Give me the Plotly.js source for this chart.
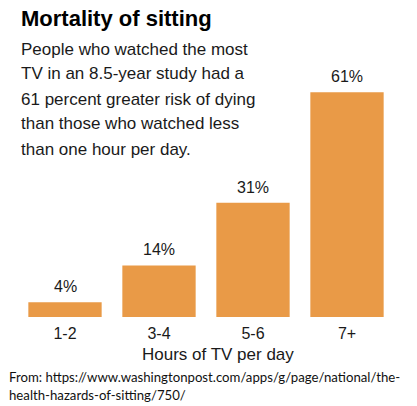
<!DOCTYPE html>
<html>
<head>
<meta charset="utf-8">
<script src="https://cdn.plot.ly/plotly-3.0.1.min.js"></script>
<style>
  html, body { margin: 0; padding: 0; background: #fff; }
  #chart { width: 417px; height: 406px; }
</style>
</head>
<body>
<div id="chart"></div>
<script>
// hours of TV per day vs. greater risk of dying (%)
const hours = ['1-2', '3-4', '5-6', '7+'];
const risk = [4, 14, 31, 61];

const titleText = 'Mortality of sitting';
const bodyLines = [
  'People who watched the most',
  'TV in an 8.5-year study had a',
  '61 percent greater risk of dying',
  'than those who watched less',
  'than one hour per day.',
];
const axisText = 'Hours of TV per day';
const sourceLines = [
  'From: https://www.washingtonpost.com/apps/g/page/national/the-',
  'health-hazards-of-sitting/750/',
];

const W = 417, H = 406;
const M = { l: 18, r: 23, t: 20, b: 89 };
const plotH = H - M.t - M.b;
const plotW = W - M.l - M.r;
// pixel -> paper helpers for the free text
const py = (y) => (H - M.b - y) / plotH;
const px = (x) => (x - M.l) / plotW;

const ink = '#1a1a1a';
const arial = 'Liberation Sans, Arial, sans-serif';

const notes = [];
notes.push({
  text: '<b>' + titleText + '</b>', x: px(19), y: py(19),
  font: { family: arial, size: 22, color: '#000' },
});
bodyLines.forEach((t, i) => notes.push({
  text: t, x: px(19), y: py(49 + i * 25),
  font: { family: arial, size: 17, color: ink },
}));
notes.push({
  text: axisText, x: px(217.5), y: py(354), xanchor: 'center',
  font: { family: arial, size: 17, color: ink },
});
sourceLines.forEach((t, i) => notes.push({
  text: t, x: px(7), y: py(377 + i * 18),
  font: { family: 'Lato, sans-serif', size: 13.2, color: '#111' },
}));
notes.forEach((a) => {
  a.xref = 'paper'; a.yref = 'paper';
  a.xanchor = a.xanchor || 'left'; a.yanchor = 'middle';
  a.showarrow = false; a.align = 'left';
});

// value labels sit a little above each bar
hours.forEach((h, i) => notes.push({
  x: h, y: risk[i], xref: 'x', yref: 'y',
  text: risk[i] + '%', showarrow: false,
  xanchor: 'center', yanchor: 'bottom', yshift: 5,
  font: { family: arial, size: 16, color: ink },
}));

const trace = {
  type: 'bar', x: hours, y: risk,
  marker: { color: '#E99A47' },
  cliponaxis: false, hoverinfo: 'skip',
};

Plotly.newPlot('chart', [trace], {
  width: W, height: H, margin: M,
  paper_bgcolor: '#fff', plot_bgcolor: '#fff',
  showlegend: false, bargap: 0.22,
  xaxis: {
    type: 'category', showgrid: false, zeroline: false, showline: false, ticks: '',
    ticklabelstandoff: 5,
    tickfont: { family: arial, size: 16, color: ink },
  },
  yaxis: { range: [0, plotH / 3.685], visible: false, fixedrange: true },
  annotations: notes,
}, { displayModeBar: false, staticPlot: true });
</script>
</body>
</html>
